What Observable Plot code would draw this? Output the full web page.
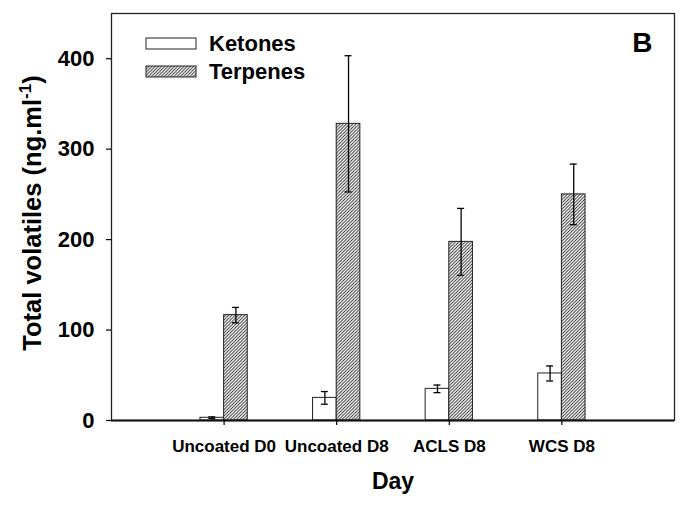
<!DOCTYPE html>
<html>
<head>
<meta charset="utf-8">
<script src="https://cdn.jsdelivr.net/npm/d3@7"></script>
<script src="https://cdn.jsdelivr.net/npm/@observablehq/plot@0.6"></script>
<style>
  html, body { margin: 0; padding: 0; background: #fff; }
  #chart { position: relative; width: 682px; height: 508px; }
</style>
</head>
<body>
<div id="chart"></div>
<script>
// Total volatiles per treatment day (ng/ml), mean ± error
const days = ["Uncoated D0", "Uncoated D8", "ACLS D8", "WCS D8"];
const seriesNames = ["Ketones", "Terpenes"];
const ketones = [3, 25, 35, 52];
const ketonesErr = [1, 7, 4.2, 8.3];
const terpenes = [116.5, 328, 197.5, 250];
const terpenesErr = [8.5, 75.3, 37, 33.5];
const yTicks = [0, 100, 200, 300, 400];

const FONT = "'Liberation Sans', Arial, Helvetica, sans-serif";
const barW = 0.21;   // bar width in x units (groups sit at 1..4)
const capW = 0.031;  // half-width of the error caps

function rowsFor(values, errs, side) {
  return values.map((v, i) => {
    const pos = i + 1;
    const x1 = side < 0 ? pos - barW : pos;
    const x2 = side < 0 ? pos : pos + barW;
    return { day: days[i], value: v, err: errs[i], x1, x2, cx: (x1 + x2) / 2 };
  });
}
const ketoneRows = rowsFor(ketones, ketonesErr, -1);
const terpeneRows = rowsFor(terpenes, terpenesErr, 1);
const allRows = ketoneRows.concat(terpeneRows);

const chart = Plot.plot({
  width: 682,
  height: 508,
  marginLeft: 111,
  marginRight: 8,
  marginTop: 13,
  marginBottom: 88,
  x: { domain: [0, 5] },
  y: { domain: [0, 450] },
  style: { fontFamily: FONT, color: "#000", background: "#fff", overflow: "visible" },
  marks: [
    Plot.rect(ketoneRows, { x1: "x1", x2: "x2", y1: 0, y2: "value", fill: "#fff", stroke: "#222", strokeWidth: 1 }),
    Plot.rect(terpeneRows, { x1: "x1", x2: "x2", y1: 0, y2: "value", fill: "url(#hatch)", stroke: "#222", strokeWidth: 1 }),
    Plot.ruleX(allRows, { x: "cx", y1: d => d.value - d.err, y2: d => d.value + d.err, stroke: "#000", strokeWidth: 1.3 }),
    Plot.ruleY(allRows, { y: d => d.value + d.err, x1: d => d.cx - capW, x2: d => d.cx + capW, stroke: "#000", strokeWidth: 1.3 }),
    Plot.ruleY(allRows, { y: d => d.value - d.err, x1: d => d.cx - capW, x2: d => d.cx + capW, stroke: "#000", strokeWidth: 1.3 }),
    Plot.frame({ stroke: "#222", strokeWidth: 1.3 }),
    Plot.ruleY([0], { stroke: "#111", strokeWidth: 1.8 }),
    Plot.axisY({ ticks: yTicks, tickSize: 5, tickPadding: 12, fontSize: 22, fontWeight: "bold", label: null, strokeWidth: 1.2 }),
    Plot.axisX({ ticks: [1, 2, 3, 4], tickFormat: d => days[d - 1], tickSize: 5, tickPadding: 14, fontSize: 17, fontWeight: "bold", label: null, strokeWidth: 1.2 }),
    Plot.text(["Day"], { frameAnchor: "bottom", lineAnchor: "bottom", dy: 68, fontSize: 23, fontWeight: "bold", text: d => d }),
    Plot.text(["B"], { frameAnchor: "top-right", textAnchor: "end", lineAnchor: "bottom", dx: -22, dy: 38, fontSize: 28, fontWeight: "bold", text: d => d })
  ]
});

// hatch pattern for the terpene bars
const svg = d3.select(chart);
const defs = svg.insert("defs", ":first-child");
const pat = defs.append("pattern")
  .attr("id", "hatch")
  .attr("patternUnits", "userSpaceOnUse")
  .attr("width", 3.2)
  .attr("height", 3.2);
pat.append("rect").attr("width", 3.2).attr("height", 3.2).attr("fill", "#fff");
pat.append("path")
  .attr("d", "M-0.8,0.8 L0.8,-0.8 M0,3.2 L3.2,0 M2.4,4 L4,2.4")
  .attr("stroke", "#222")
  .attr("stroke-width", 0.9);

// rotated y-axis title with a superscript
const yt = svg.append("text")
  .attr("transform", "translate(41,213) rotate(-90)")
  .attr("text-anchor", "middle")
  .style("font-family", FONT)
  .style("font-weight", "bold")
  .style("font-size", "25.5px")
  .attr("fill", "#000");
yt.append("tspan").text("Total volatiles (ng.ml");
yt.append("tspan").attr("dy", -10).style("font-size", "17px").text("-1");
yt.append("tspan").attr("dy", 10).text(")");

// legend in the upper-left corner of the frame
const legend = svg.append("g");
seriesNames.forEach((name, i) => {
  const g = legend.append("g").attr("transform", `translate(146,${38 + i * 28})`);
  g.append("rect")
    .attr("width", 50).attr("height", 11)
    .attr("fill", i === 0 ? "#fff" : "url(#hatch)")
    .attr("stroke", "#222").attr("stroke-width", 1);
  g.append("text")
    .attr("x", 63).attr("y", 13)
    .attr("text-anchor", "start")
    .style("font-family", FONT)
    .style("font-weight", "bold")
    .style("font-size", "22px")
    .attr("fill", "#000")
    .text(name);
});

document.getElementById("chart").appendChild(chart);
</script>
</body>
</html>
